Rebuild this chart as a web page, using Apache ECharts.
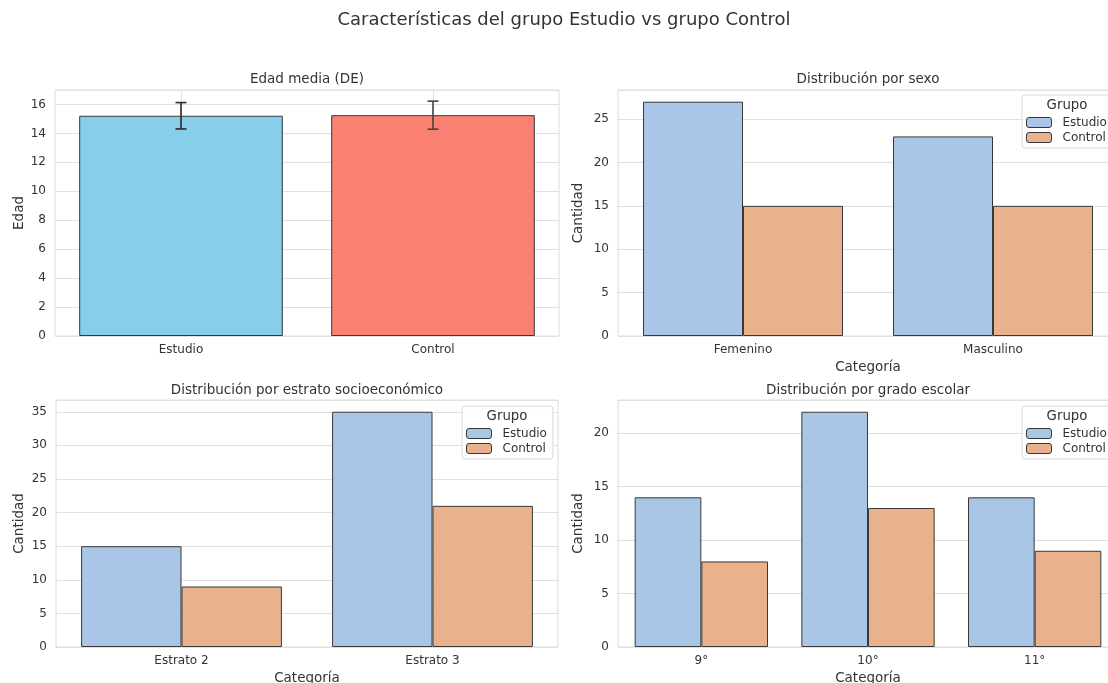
<!DOCTYPE html>
<html>
<head>
<meta charset="utf-8">
<script src="https://cdn.jsdelivr.net/npm/echarts@6/dist/echarts.min.js"></script>
<style>
html,body{margin:0;padding:0;background:#fff;}
#chart{width:1108px;height:683px;}
</style>
</head>
<body>
<div id="chart"></div>
<script>
// ---- data ----
const edadCats = ['Estudio', 'Control'];
const edadMedia = [15.22, 15.26];
const edadDE = [0.91, 0.97];
const edadColors = ['#87CEEB', '#FA8072'];

const sexoCats = ['Femenino', 'Masculino'];
const sexoEstudio = [27, 23];
const sexoControl = [15, 15];

const estratoCats = ['Estrato 2', 'Estrato 3'];
const estratoEstudio = [15, 35];
const estratoControl = [9, 21];

const gradoCats = ['9°', '10°', '11°'];
const gradoEstudio = [14, 22, 14];
const gradoControl = [8, 13, 9];

const grupos = ['Estudio', 'Control'];
const grupoColors = ['#a9c6e6', '#e9b28c'];

// ---- styles ----
const FONT = 'DejaVu Sans';
const TXT = '#333333';
const GRID_LINE = '#e0e0e0';
const BORDER = '#dcdcdc';
const EDGE = '#383838';

const chart = echarts.init(document.getElementById('chart'), null, {renderer: 'canvas'});

function gridBox(left, top, width, height) {
  return {left, top, width, height, show: true, borderColor: BORDER, borderWidth: 1,
          backgroundColor: 'transparent', containLabel: false, outerBoundsMode: 'none'};
}
function catAxis(idx, data, name) {
  return {
    type: 'category', gridIndex: idx, data,
    axisLine: {show: false}, axisTick: {show: false},
    axisLabel: {color: TXT, fontSize: 12, fontFamily: FONT, margin: 8},
    splitLine: {show: false},
    name: name || '', nameLocation: 'middle', nameGap: 24,
    nameTextStyle: {color: TXT, fontSize: 13.5, fontFamily: FONT}
  };
}
function valAxis(idx, max, interval, name, gap) {
  return {
    type: 'value', gridIndex: idx, min: 0, max, interval,
    axisLine: {show: false}, axisTick: {show: false},
    axisLabel: {color: TXT, fontSize: 12, fontFamily: FONT, margin: 9, showMaxLabel: false},
    splitLine: {show: true, lineStyle: {color: GRID_LINE, width: 1}},
    name, nameLocation: 'middle', nameGap: gap, nameRotate: 90,
    nameTextStyle: {color: TXT, fontSize: 13.5, fontFamily: FONT}
  };
}
function titleAt(text, cx, top, size) {
  return {text, left: cx, top, textAlign: 'center', padding: 0,
          textStyle: {color: TXT, fontSize: size, fontWeight: 'normal', fontFamily: FONT}};
}
function legendAt(left, top) {
  return {
    orient: 'vertical', left, top, data: grupos,
    itemWidth: 25, itemHeight: 10, itemGap: 2,
    padding: [21, 6, 4, 4],
    backgroundColor: 'rgba(255,255,255,0.85)', borderColor: '#d8d8d8', borderWidth: 1, borderRadius: 3,
    selectedMode: false,
    textStyle: {color: TXT, fontSize: 12, fontFamily: FONT, lineHeight: 13, padding: [0, 0, 0, 6]},
    itemStyle: {borderColor: EDGE, borderWidth: 1}
  };
}
function groupSeries(idx, estudio, control) {
  return [estudio, control].map((vals, i) => ({
    type: 'bar', name: grupos[i], xAxisIndex: idx, yAxisIndex: idx,
    data: vals, barWidth: '40%', barGap: '0%',
    itemStyle: {color: grupoColors[i], borderColor: EDGE, borderWidth: 1},
    emphasis: {disabled: true}
  }));
}

const option = {
  backgroundColor: '#ffffff',
  animation: false,
  textStyle: {fontFamily: FONT},
  title: [
    titleAt('Características del grupo Estudio vs grupo Control', 564, 11, 18),
    titleAt('Edad media (DE)', 307, 72, 13.5),
    titleAt('Distribución por sexo', 868, 72, 13.5),
    titleAt('Distribución por estrato socioeconómico', 307, 383, 13.5),
    titleAt('Distribución por grado escolar', 868, 383, 13.5),
    titleAt('Grupo', 1067, 99, 13.3),
    titleAt('Grupo', 507, 410, 13.3),
    titleAt('Grupo', 1067, 410, 13.3)
  ],
  legend: [legendAt(1022, 95), legendAt(462, 406), legendAt(1022, 406)],
  grid: [
    gridBox(55, 90, 504, 246),
    gridBox(618, 90, 500, 246),
    gridBox(56, 400, 502, 247),
    gridBox(618, 400, 500, 247)
  ],
  xAxis: [
    catAxis(0, edadCats, ''),
    catAxis(1, sexoCats, 'Categoría'),
    catAxis(2, estratoCats, 'Categoría'),
    catAxis(3, gradoCats, 'Categoría')
  ],
  yAxis: [
    valAxis(0, 17, 2, 'Edad', 28),
    valAxis(1, 28.35, 5, 'Cantidad', 33),
    valAxis(2, 36.75, 5, 'Cantidad', 30),
    valAxis(3, 23.1, 5, 'Cantidad', 33)
  ],
  series: [
    {
      type: 'bar', name: 'Edad media', xAxisIndex: 0, yAxisIndex: 0, z: 2,
      barWidth: '80.8%',
      data: edadMedia.map((v, i) => ({value: v, itemStyle: {color: edadColors[i]}})),
      itemStyle: {borderColor: EDGE, borderWidth: 1},
      emphasis: {disabled: true}
    },
    {
      type: 'line', name: 'vgrid', xAxisIndex: 0, yAxisIndex: 0, z: 1, data: [],
      silent: true,
      markLine: {
        z: 1, silent: true, symbol: 'none', label: {show: false},
        lineStyle: {color: GRID_LINE, width: 1, type: 'solid'},
        emphasis: {disabled: true},
        data: edadCats.map(c => ({xAxis: c}))
      }
    },
    {
      type: 'custom', name: 'DE', xAxisIndex: 0, yAxisIndex: 0, z: 5,
      data: edadMedia.map((m, i) => [i, m - edadDE[i], m + edadDE[i]]),
      renderItem: function (params, api) {
        const x = api.value(0);
        const lo = api.coord([x, api.value(1)]);
        const hi = api.coord([x, api.value(2)]);
        const cap = 5.5;
        const color = params.dataIndex === 0 ? '#2a2a2a' : '#4a4040';
        const st = {stroke: color, lineWidth: 1.6};
        return {type: 'group', children: [
          {type: 'line', shape: {x1: lo[0], y1: lo[1], x2: hi[0], y2: hi[1]}, style: st},
          {type: 'line', shape: {x1: hi[0] - cap, y1: hi[1], x2: hi[0] + cap, y2: hi[1]}, style: st},
          {type: 'line', shape: {x1: lo[0] - cap, y1: lo[1], x2: lo[0] + cap, y2: lo[1]}, style: st}
        ]};
      }
    },
    ...groupSeries(1, sexoEstudio, sexoControl),
    ...groupSeries(2, estratoEstudio, estratoControl),
    ...groupSeries(3, gradoEstudio, gradoControl)
  ]
};
chart.setOption(option);
</script>
</body>
</html>
